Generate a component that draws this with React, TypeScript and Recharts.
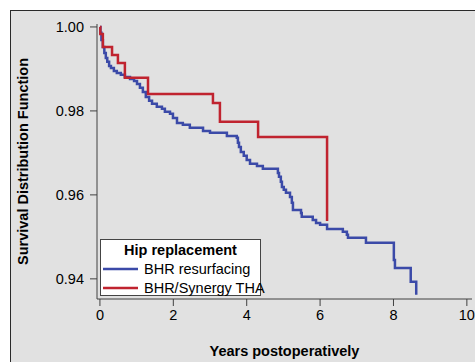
import React from 'react';
import { LineChart, Line, XAxis, YAxis, Legend } from 'recharts';

// Kaplan-Meier steps: time (years) and survival after each drop
const resurfTimes = [
  0, 0.014, 0.04, 0.08, 0.12, 0.16, 0.2, 0.25, 0.3, 0.38, 0.46, 0.57, 0.68, 0.82, 0.93,
  1.01, 1.09, 1.17, 1.25, 1.34, 1.42, 1.55, 1.69, 1.77, 1.91, 1.99, 2.1, 2.26, 2.45, 2.81,
  3.0, 3.46, 3.73, 3.76, 3.79, 3.84, 3.92, 4.0, 4.09, 4.28, 4.44, 4.85, 4.88, 4.93, 4.96,
  5.01, 5.07, 5.18, 5.23, 5.26, 5.48, 5.5, 5.8, 5.89, 6.0, 6.19, 6.62, 6.73, 6.76, 7.25,
  8.01, 8.04, 8.47, 8.62,
];
const resurfSurv = [
  1.0, 0.9986, 0.9969, 0.9952, 0.9938, 0.9926, 0.9917, 0.9907, 0.9902, 0.9895, 0.989,
  0.9886, 0.9881, 0.9876, 0.9871, 0.9864, 0.9855, 0.9845, 0.9833, 0.9824, 0.9817, 0.981,
  0.9805, 0.9798, 0.9793, 0.9783, 0.9771, 0.9767, 0.976, 0.9752, 0.9748, 0.974, 0.9736,
  0.9724, 0.9714, 0.9702, 0.9693, 0.9683, 0.9674, 0.9669, 0.9662, 0.9652, 0.9643, 0.9631,
  0.9619, 0.9612, 0.9605, 0.9595, 0.9581, 0.9564, 0.9557, 0.9548, 0.954, 0.9533, 0.9529,
  0.9519, 0.9512, 0.9505, 0.9498, 0.9486, 0.9445, 0.9426, 0.9393, 0.9362,
];

const thaTimes = [0, 0.01, 0.08, 0.33, 0.49, 0.68, 1.31, 3.08, 3.27, 4.31, 6.19];
const thaSurv = [1.0, 0.9983, 0.9952, 0.9933, 0.9914, 0.9879, 0.984, 0.9819, 0.9774, 0.9738, 0.9538];

const xTicks = [0, 2, 4, 6, 8, 10];
const yTicks = [0.94, 0.96, 0.98, 1.0];

const BLUE = '#3b4aa8';
const RED = '#c0232f';
const FONT = '"Liberation Sans", Arial, sans-serif';

const resurfData = resurfTimes.map((t, i) => ({ t, s: resurfSurv[i] }));
const thaData = thaTimes.map((t, i) => ({ t, s: thaSurv[i] }));

const LegendBox = () => (
  <div
    style={{
      width: 159,
      height: 55,
      border: '1px solid #444',
      background: '#fff',
      fontFamily: FONT,
      fontSize: 14.5,
      color: '#000',
      lineHeight: '18px',
      whiteSpace: 'nowrap',
    }}
  >
    <div style={{ textAlign: 'center', fontWeight: 'bold', marginTop: 1 }}>Hip replacement</div>
    {[
      { name: 'BHR resurfacing', color: BLUE },
      { name: 'BHR/Synergy THA', color: RED },
    ].map((e) => (
      <div key={e.name} style={{ display: 'flex', alignItems: 'center', height: 19 }}>
        <svg width={40} height={4} style={{ marginLeft: 2, flexShrink: 0 }}>
          <line x1={0} y1={2} x2={35} y2={2} stroke={e.color} strokeWidth={2.5} />
        </svg>
        <span style={{ marginLeft: 1 }}>{e.name}</span>
      </div>
    ))}
  </div>
);

export default function App() {
  return (
    <div
      style={{
        position: 'fixed',
        left: 0,
        top: 0,
        width: 475,
        height: 362,
        overflow: 'hidden',
        background: '#fff',
      }}
    >
      <div
        style={{
          position: 'absolute',
          left: 10,
          top: 10,
          width: 480,
          height: 370,
          background: '#e1e1e1',
          borderTop: '1px solid #2a2a2a',
          borderLeft: '1px solid #2a2a2a',
        }}
      />
      <div style={{ position: 'absolute', left: 0, top: 0 }}>
        <LineChart
          width={475}
          height={362}
          margin={{ top: 24, right: 3, bottom: 0, left: 0 }}
        >
          <XAxis
            xAxisId="top"
            orientation="top"
            type="number"
            dataKey="t"
            domain={[-0.08, 10.14]}
            tick={false}
            tickLine={false}
            height={0}
            stroke="#505050"
          />
          <YAxis
            yAxisId="right"
            orientation="right"
            type="number"
            domain={[0.9352, 1.0007]}
            tick={false}
            tickLine={false}
            width={0}
            stroke="#606060"
            strokeWidth={2}
          />
          <XAxis
            type="number"
            dataKey="t"
            domain={[-0.08, 10.14]}
            ticks={xTicks}
            allowDataOverflow
            height={63}
            tickSize={7}
            tickMargin={4}
            stroke="#404040"
            tick={{ fill: '#000', fontSize: 14.5, fontFamily: FONT }}
            label={{
              value: 'Years postoperatively',
              position: 'insideBottom',
              offset: 6,
              style: { fill: '#000', fontSize: 14.5, fontWeight: 'bold', fontFamily: FONT },
            }}
          />
          <YAxis
            type="number"
            domain={[0.9352, 1.0007]}
            ticks={yTicks}
            allowDataOverflow
            width={97}
            tickSize={7}
            tickMargin={6}
            stroke="#404040"
            tickFormatter={(v: number) => v.toFixed(2)}
            tick={{ fill: '#000', fontSize: 14.5, fontFamily: FONT }}
            label={{
              value: 'Survival Distribution Function',
              angle: -90,
              position: 'insideLeft',
              offset: 23,
              style: {
                fill: '#000',
                fontSize: 14.5,
                fontWeight: 'bold',
                fontFamily: FONT,
                textAnchor: 'middle',
              },
            }}
          />
          <Legend
            layout="horizontal"
            verticalAlign="middle"
            align="center"
            wrapperStyle={{ left: 100, top: 239, width: 'auto' }}
            content={() => <LegendBox />}
          />
          <Line
            data={resurfData}
            dataKey="s"
            type="stepAfter"
            stroke={BLUE}
            strokeWidth={2.5}
            dot={false}
            isAnimationActive={false}
            name="BHR resurfacing"
          />
          <Line
            data={thaData}
            dataKey="s"
            type="stepAfter"
            stroke={RED}
            strokeWidth={2.5}
            dot={false}
            isAnimationActive={false}
            name="BHR/Synergy THA"
          />
        </LineChart>
      </div>
    </div>
  );
}
